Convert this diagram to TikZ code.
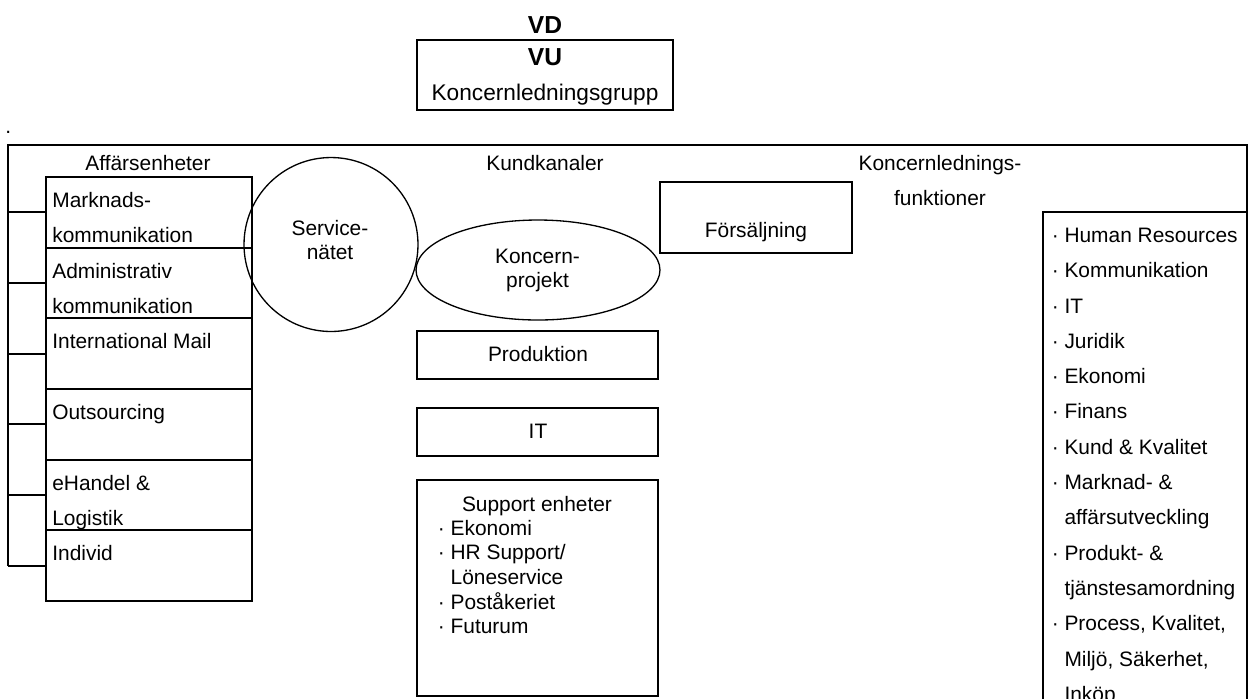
\documentclass[tikz,border=0pt]{standalone}
\usepackage{fontspec}
\setmainfont{Liberation Sans}
\usetikzlibrary{shapes.geometric}

\begin{document}
\begin{tikzpicture}[x=0.02cm, y=-0.02cm,
    thickline/.style={line width=1.1pt},
    thinline/.style={line width=0.75pt},
    lbl/.style={inner sep=0pt, font=\fontsize{11.9}{14}\selectfont},
    widelbl/.style={inner sep=0pt, font=\fontsize{11.9}{20.1}\selectfont},
    tightlbl/.style={inner sep=0pt, font=\fontsize{11.9}{14}\selectfont}]
    \useasboundingbox (0,0) rectangle (1250,698);
    \clip (0,0) rectangle (1250,698);

    % Top management
    \node[lbl, font=\fontsize{14}{16}\selectfont\bfseries, anchor=base] (vd) at (545,33) {VD};
    \draw[thickline] (417,40) rectangle (673,110);
    \node[lbl, font=\fontsize{14}{16}\selectfont\bfseries, anchor=base] (vu) at (545,65) {VU};
    \node[lbl, font=\fontsize{12.9}{15}\selectfont, anchor=base] (klgrupp) at (545,100) {Koncernledningsgrupp};
    \node[lbl, anchor=base west] (dot) at (5,133) {.};

    % Outer frame
    \draw[thickline] (8,565.7) -- (8,145) -- (1247,145) -- (1247,760);

    % Affaersenheter column
    \node[lbl, anchor=base] (affhead) at (148,170) {Affärsenheter};
    \foreach \i/\txt in {0/{Marknads-\\kommunikation}, 1/{Administrativ\\kommunikation},
                         2/{International Mail}, 3/{Outsourcing},
                         4/{eHandel \&\\Logistik}, 5/{Individ}} {
        \draw[thickline] (46,177+70.67*\i) rectangle (252,247.67+70.67*\i);
        \draw[thickline] (8,212.33+70.67*\i) -- (46,212.33+70.67*\i);
        \node[widelbl, align=left, anchor=north west] (aff\i) at (52,182.3+70.67*\i) {\strut\txt};
    }

    % Servicenaetet
    \node[draw, thinline, circle, minimum size=3.48cm, inner sep=0pt] (svc) at (331,244.5) {};
    \node[tightlbl, align=center, anchor=north] (svctxt) at (330,217.8) {\strut Service-\\nätet};

    % Kundkanaler
    \node[lbl, anchor=base] (kundhead) at (545,170) {Kundkanaler};
    \node[draw, thinline, ellipse, minimum width=4.88cm, minimum height=2cm, inner sep=0pt] (kprojekt) at (538,270) {};
    \node[tightlbl, align=center, anchor=north] (kprojtxt) at (537.5,245.8) {\strut Koncern-\\projekt};

    \draw[thickline] (660,182) rectangle (852,253);
    \node[lbl, anchor=base] (forsalj) at (756,237) {Försäljning};

    \draw[thinline] (417,331) rectangle (658,379);
    \node[lbl, anchor=base] (prod) at (538,361) {Produktion};

    \draw[thinline] (417,408) rectangle (658,456);
    \node[lbl, anchor=base] (it) at (538,438) {IT};

    \draw[thinline] (417,480) rectangle (658,696);
    \node[lbl, anchor=base] (supphead) at (537,511) {Support enheter};
    \node[tightlbl, align=left, anchor=north west] (supplist) at (437.5,517.8)
        {\strut· Ekonomi\\· HR Support/\\\phantom{·\ }Löneservice\\· Poståkeriet\\· Futurum};

    % Koncernledningsfunktioner
    \node[widelbl, align=center, anchor=north] (klfhead) at (940,145.3) {\strut Koncernlednings-\\funktioner};
    \draw[thickline] (1043,760) -- (1043,212) -- (1247,212);
    \node[widelbl, align=left, anchor=north west] (klflist) at (1051.4,217.3)
        {\strut· Human Resources\\
         · Kommunikation\\
         · IT\\
         · Juridik\\
         · Ekonomi\\
         · Finans\\
         · Kund \& Kvalitet\\
         · Marknad- \&\\
         \phantom{·\ }affärsutveckling\\
         · Produkt- \&\\
         \phantom{·\ }tjänstesamordning\\
         · Process, Kvalitet,\\
         \phantom{·\ }Miljö, Säkerhet,\\
         \phantom{·\ }Inköp};

\end{tikzpicture}
\end{document}
